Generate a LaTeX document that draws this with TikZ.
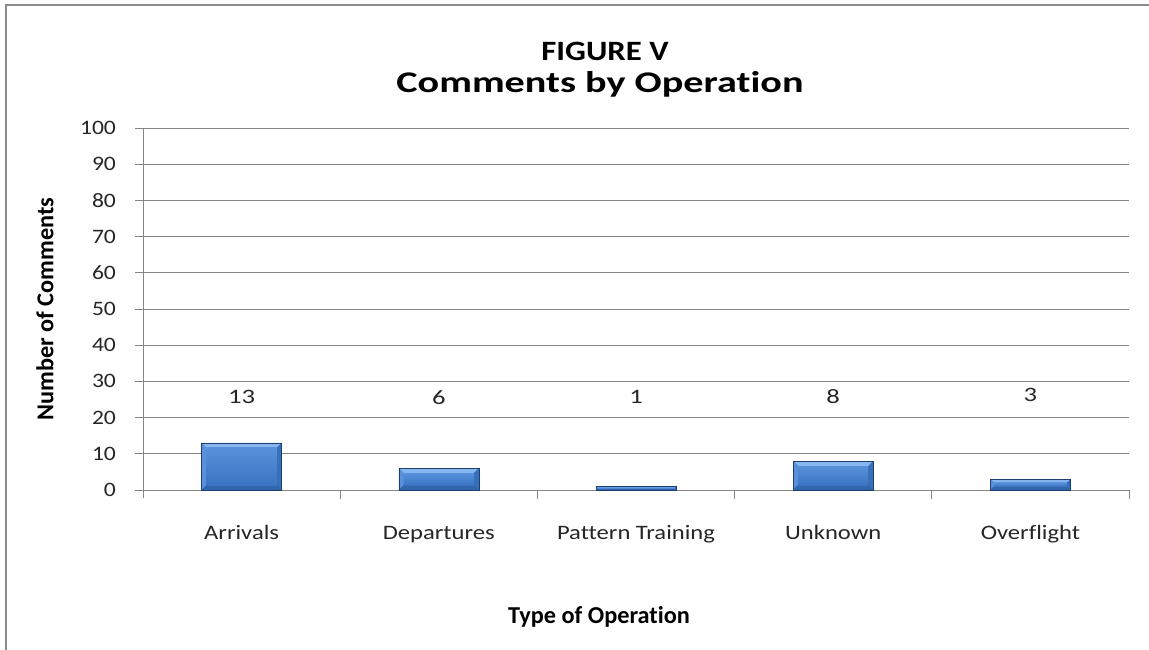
\documentclass[tikz,border=0pt]{standalone}
\usepackage{fontspec}
\setmainfont{Carlito}[Ligatures=NoCommon]
\usetikzlibrary{positioning}

\definecolor{gridgray}{HTML}{868686}
\definecolor{framegray}{HTML}{8C8C8C}
\definecolor{barlight}{HTML}{86B6F0}
\definecolor{barmid}{HTML}{5890DA}
\definecolor{barface}{HTML}{3A74C2}
\definecolor{bardark}{HTML}{24508E}

% one bar of the chart: #1 = centre x, #2 = value
\newcommand{\opbar}[2]{%
    \pgfmathsetmacro\bartop{490-3.62*#2}
    \pgfmathsetmacro\barin{min(5,3.62*#2/3)}
    \fill[bardark] (#1-40,\bartop) rectangle (#1+40,490);
    \fill[barlight] (#1-40,\bartop) -- (#1+40,\bartop) -- (#1+40-\barin,\bartop+\barin) -- (#1-40+\barin,\bartop+\barin) -- cycle;
    \fill[barmid] (#1-40,\bartop) -- (#1-40+\barin,\bartop+\barin) -- (#1-40+\barin,490-\barin) -- (#1-40,490) -- cycle;
    \fill[barface!85!bardark] (#1+40,\bartop) -- (#1+40-\barin,\bartop+\barin) -- (#1+40-\barin,490-\barin) -- (#1+40,490) -- cycle;
    \fill[barface!60!bardark] (#1-40,490) -- (#1-40+\barin,490-\barin) -- (#1+40-\barin,490-\barin) -- (#1+40,490) -- cycle;
    \shade[top color=barmid, bottom color=barface] (#1-40+\barin,\bartop+\barin) rectangle (#1+40-\barin,490-\barin);
    \draw[bardark!80!black, line width=0.6pt] (#1-40,\bartop) rectangle (#1+40,490);
}

\begin{document}
\begin{tikzpicture}[%
    x=1pt,
    y=-1pt,
    grid/.style={draw=gridgray, line width=0.9pt},
    ticklabel/.style={font=\fontsize{20.5}{24}\selectfont, text=black!85, xscale=1.15},
    vallabel/.style={font=\fontsize{20.5}{24}\selectfont, text=black!85, xscale=1.3},
    catlabel/.style={font=\fontsize{20.5}{24}\selectfont, text=black!85, xscale=1.2, anchor=base},
    axistitle/.style={font=\fontsize{24.3}{29}\selectfont\bfseries},
    charttitle/.style={font=\fontsize{28}{34}\selectfont\bfseries}
    ]

    \useasboundingbox (0,0) rectangle (1149,650);
    \fill[white] (0,0) rectangle (1149,650);
    \clip (0,0) rectangle (1149,650);
    \draw[framegray, line width=2pt] (6,5) rectangle (1170,670);

    % title
    \node[charttitle, xscale=1.17] (title1) at (605,51) {FIGURE V};
    \node[charttitle, font=\fontsize{30}{36}\selectfont\bfseries, xscale=1.34] (title2) at (600,84) {Comments by Operation};

    % value axis with gridlines
    \foreach \v in {0,10,...,100} {
        \draw[grid] (135,490-3.62*\v) -- (1129,490-3.62*\v);
        \node[ticklabel, anchor=east] (y\v) at (120,490-3.62*\v) {\v};
    }
    \draw[grid] (143,128) -- (143,498);

    % category ticks
    \foreach \i in {1,...,5} {
        \draw[grid] (143+197.2*\i,490) -- (143+197.2*\i,499);
    }

    % bars
    \opbar{241.6}{13}
    \opbar{438.8}{6}
    \opbar{636}{1}
    \opbar{833.2}{8}
    \opbar{1030.4}{3}

    % value labels
    \node[vallabel] (v13) at (241.6,397) {13};
    \node[vallabel] (v6)  at (438.8,398) {6};
    \node[vallabel] (v1)  at (636,397) {1};
    \node[vallabel] (v8)  at (833.2,397) {8};
    \node[vallabel] (v3)  at (1030.4,395) {3};

    % categories
    \node[catlabel] (arr) at (241.6,539) {Arrivals};
    \node[catlabel] (dep) at (438.8,539) {Departures};
    \node[catlabel] (pat) at (636,539) {Pattern Training};
    \node[catlabel] (unk) at (833.2,539) {Unknown};
    \node[catlabel] (ovf) at (1030.4,539) {Overflight};

    % axis titles
    \node[axistitle] (xtitle) at (599,617) {Type of Operation};
    \node[axistitle, rotate=90] (ytitle) at (45,309) {Number of Comments};

    \end{tikzpicture}
\end{document}
